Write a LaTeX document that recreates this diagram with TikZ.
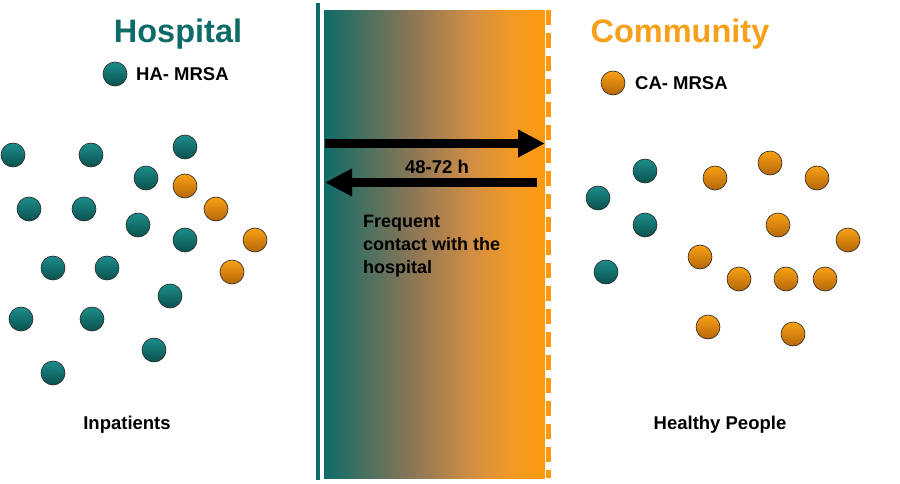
\documentclass[tikz,border=0pt]{standalone}
\usepackage{fontspec}
\setmainfont{Liberation Sans}
\usetikzlibrary{arrows.meta}
\definecolor{teal1}{HTML}{0F6B68}
\definecolor{orng}{HTML}{FB9A10}
\definecolor{titleor}{HTML}{F7A01C}
\definecolor{midc}{HTML}{8C7656}
\definecolor{midc2}{HTML}{CF8D45}
\definecolor{midc3}{HTML}{F49A22}
\definecolor{tballtop}{HTML}{1C8E8A}
\definecolor{tballbot}{HTML}{0A514E}
\definecolor{oballtop}{HTML}{F9A215}
\definecolor{oballbot}{HTML}{B56608}
\pgfdeclarehorizontalshading{bandgrad}{100bp}{color(0bp)=(teal1); color(25bp)=(teal1); color(45bp)=(midc); color(58bp)=(midc2); color(68bp)=(midc3); color(75bp)=(orng); color(100bp)=(orng)}
\tikzset{
  ball/.style={circle, minimum size=24pt, inner sep=0pt, draw=black!85, line width=0.6pt},
  tball/.style={ball, top color=tballtop, bottom color=tballbot},
  oball/.style={ball, top color=oballtop, bottom color=oballbot},
  title/.style={font=\bfseries\fontsize{32.5}{36}\selectfont},
  lbl/.style={font=\bfseries\fontsize{18.5}{21}\selectfont, inner sep=0pt},
  bigarrow/.style={line width=9pt, -{Triangle[length=27pt,width=26pt]}},
}
\begin{document}
\begin{tikzpicture}[x=1pt,y=-1pt]
\fill[white] (0,0) rectangle (900,484);
\useasboundingbox (0,0) rectangle (900,484);

% band
\shade[shading=bandgrad, shading angle=0] (324,11) rectangle (545,478);
\coordinate (tl1) at (318,3);
\coordinate (tl2) at (318,480);
\draw[teal1, line width=4pt] (tl1) -- (tl2);
\coordinate (dl1) at (548,10);
\coordinate (dl2) at (548,478);
\draw[orng, line width=5pt, dash pattern=on 15pt off 8pt] (dl1) -- (dl2);

% arrows
\coordinate (ra) at (325,143.5);
\coordinate (rb) at (545,143.5);
\draw[bigarrow] (ra) -- (rb);
\coordinate (la) at (537,182.5);
\coordinate (lb) at (325,182.5);
\draw[bigarrow] (la) -- (lb);
\node[lbl] (hrs) at (437,167) {48-72 h};
\node[lbl, anchor=north west, align=left, font=\bfseries\fontsize{18}{23}\selectfont] (freq) at (363,215) {Frequent\\contact with the\\hospital};

% titles
\node[title, text=teal1] (hosp) at (178,34) {Hospital};
\node[title, text=titleor] (comm) at (680,34) {Community};

% legends
\node[tball] (legt) at (115,74) {};
\node[lbl, anchor=west] (ha) at (136,74) {HA- MRSA};
\node[oball] (lego) at (613,83) {};
\node[lbl, anchor=west] (ca) at (635,83) {CA- MRSA};

% bottom labels
\node[lbl] (inp) at (127,425) {Inpatients};
\node[lbl] (hp) at (720,425) {Healthy People};

% hospital balls
\node[tball] (h1) at (13,155) {};
\node[tball] (h2) at (91,155) {};
\node[tball] (h3) at (185,147) {};
\node[tball] (h4) at (146,178) {};
\node[tball] (h5) at (29,209) {};
\node[tball] (h6) at (84,209) {};
\node[tball] (h7) at (138,225) {};
\node[tball] (h8) at (185,240) {};
\node[tball] (h9) at (53,268) {};
\node[tball] (h10) at (107,268) {};
\node[tball] (h11) at (170,296) {};
\node[tball] (h12) at (21,319) {};
\node[tball] (h13) at (92,319) {};
\node[tball] (h14) at (154,350) {};
\node[tball] (h15) at (53,373) {};
\node[oball] (h16) at (185,186) {};
\node[oball] (h17) at (216,209) {};
\node[oball] (h18) at (255,240) {};
\node[oball] (h19) at (232,272) {};

% community balls
\node[tball] (c1) at (645,171) {};
\node[tball] (c2) at (598,198) {};
\node[tball] (c3) at (645,225) {};
\node[tball] (c4) at (606,272) {};
\node[oball] (c5) at (715,178) {};
\node[oball] (c6) at (770,163) {};
\node[oball] (c7) at (817,178) {};
\node[oball] (c8) at (778,225) {};
\node[oball] (c9) at (848,240) {};
\node[oball] (c10) at (700,257) {};
\node[oball] (c11) at (739,279) {};
\node[oball] (c12) at (786,279) {};
\node[oball] (c13) at (825,279) {};
\node[oball] (c14) at (708,327) {};
\node[oball] (c15) at (793,334) {};
\end{tikzpicture}
\end{document}
